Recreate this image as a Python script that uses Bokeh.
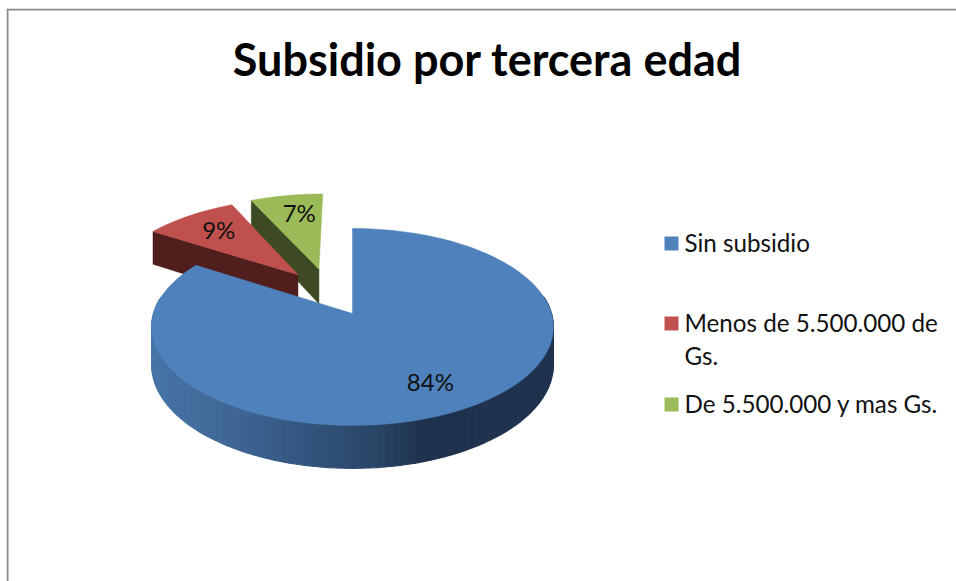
import numpy as np
from bokeh.core.properties import value
from bokeh.embed import file_html
from bokeh.models import Range1d
from bokeh.plotting import figure
from bokeh.resources import INLINE

title_text = "Subsidio por tercera edad"
categories = ["Sin subsidio", "Menos de 5.500.000 de\nGs.", "De 5.500.000 y mas Gs."]
shares = [84, 9, 7]
top_colors = ["#4f81bd", "#c0504d", "#9bbb59"]
wall_colors = ["#1f334f", "#4f1e1d", "#3e4a23"]

# layout of the tilted pie (page pixels)
APEX_X, APEX_Y = 352.0, 313.0
RX, RY, PERSP, DEPTH = 199.0, 96.6, 0.137, 37.0
EXPLODE = [(0.0, 0.0), (-0.29, 0.425), (-0.18, 0.49)]
LABEL_R = 0.74
LABEL_NUDGE_X = [0, 3, 5]
FONT = value("Lato")


def project(u, v, drop=0.0):
    d = 1 + PERSP * v
    return APEX_X + RX * u / d, APEX_Y - RY * v / d + drop / d


def rim(a0, a1, off, drop=0.0, n=120):
    t = np.radians(np.linspace(a0, a1, n))
    return project(off[0] + np.sin(t), off[1] + np.cos(t), drop)


def top_face(a0, a1, off):
    x, y = rim(a0, a1, off)
    ax, ay = project(off[0], off[1])
    return [ax, *x], [ay, *y]


p = figure(width=950, height=573, output_backend="svg", toolbar_location=None,
           x_range=Range1d(6, 956), y_range=Range1d(581, 8), min_border=0,
           outline_line_color=None, border_fill_color="white", background_fill_color="white",
           x_axis_location=None, y_axis_location=None)
p.grid.visible = False
p.styles = {"margin-left": "6px", "margin-top": "8px"}

# chart-area border: top and left only
p.multi_line([[6, 956], [7, 7]], [[9, 9], [8, 581]], line_color="#8b8b8b", line_width=2)

bounds = np.cumsum([0] + shares) / sum(shares) * 360.0

# exploded slices, back to front: cut face first, then the top
for i in (2, 1):
    a0, a1 = bounds[i], bounds[i + 1]
    off = EXPLODE[i]
    ex, ey = project(off[0] + np.sin(np.radians(a0)), off[1] + np.cos(np.radians(a0)))
    bx, by = project(off[0] + np.sin(np.radians(a0)), off[1] + np.cos(np.radians(a0)), DEPTH)
    ax, ay = project(off[0], off[1])
    cx, cy = project(off[0], off[1], DEPTH)
    p.patch([ex, ax, cx, bx], [ey, ay, cy, by], fill_color=wall_colors[i], line_color=wall_colors[i], line_width=0.5)
    fx, fy = top_face(a0, a1, off)
    p.patch(fx, fy, fill_color=top_colors[i], line_color=top_colors[i], line_width=0.5)

# side wall of the big slice: strips shaded from left to right (front half only)
stops_x = [153, 240, 307, 373, 423, 555]
stops_r = [0x47, 0x3f, 0x33, 0x2a, 0x1f, 0x1f]
stops_g = [0x75, 0x65, 0x55, 0x47, 0x32, 0x34]
stops_b = [0xa7, 0x93, 0x7f, 0x67, 0x4d, 0x50]
edges = np.linspace(80.0, 280.0, 101)
xs, ys, cols = [], [], []
for a0, a1 in zip(edges[:-1], edges[1:]):
    tx, ty = rim(a0, a1, EXPLODE[0], n=2)
    bx, by = rim(a0, a1, EXPLODE[0], DEPTH, n=2)
    xs.append([*tx, *bx[::-1]])
    ys.append([*ty, *by[::-1]])
    mx = float(np.mean(tx))
    cols.append("#%02x%02x%02x" % tuple(int(np.interp(mx, stops_x, s)) for s in (stops_r, stops_g, stops_b)))
p.patches(xs, ys, fill_color=cols, line_color=cols, line_width=1.2)
fx, fy = top_face(bounds[0], bounds[1], EXPLODE[0])
p.patch(fx, fy, fill_color=top_colors[0], line_color=top_colors[0], line_width=0.5)

# percentage labels
lx, ly, lt = [], [], []
for i, s in enumerate(shares):
    mid = np.radians((bounds[i] + bounds[i + 1]) / 2)
    x, y = project(EXPLODE[i][0] + LABEL_R * np.sin(mid), EXPLODE[i][1] + LABEL_R * np.cos(mid))
    lx.append(x + LABEL_NUDGE_X[i]); ly.append(y); lt.append(f"{s}%")
p.text(lx, ly, text=lt, text_font=FONT, text_font_size="24px", text_color="#111111",
       text_align="center", text_baseline="middle", y_offset=-1)

# title
p.text([487], [58], text=[title_text], text_font=FONT, text_font_style="bold", text_font_size="45px",
       text_color="#000000", text_align="center", text_baseline="alphabetic")

# legend
legend_y = [243, 323, 404]
p.rect([671] * 3, legend_y, width=14, height=14, fill_color=top_colors, line_color=None)
tx, ty, tt = [], [], []
for name, y in zip(categories, legend_y):
    for j, line in enumerate(name.split("\n")):
        tx.append(684); ty.append(y - 1 + 33 * j); tt.append(line)
p.text(tx, ty, text=tt, text_font=FONT, text_font_size="24.2px", text_color="#111111",
       text_align="left", text_baseline="alphabetic")

open("out.html", "w").write(file_html(p, INLINE))
